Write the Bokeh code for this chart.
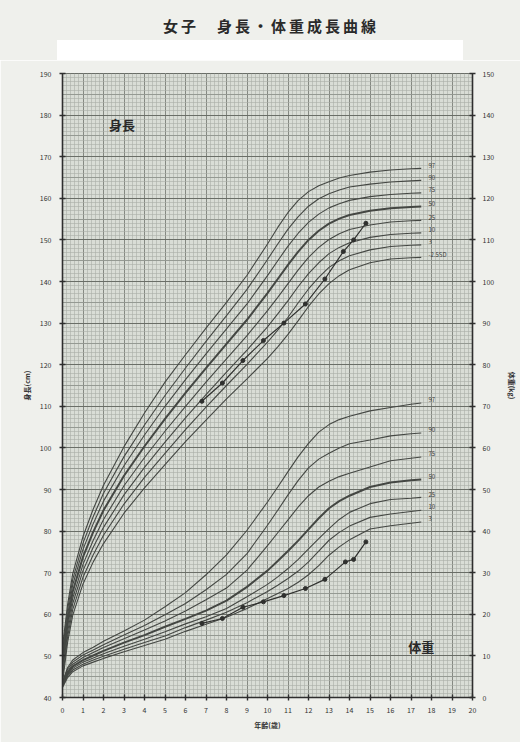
from bokeh.plotting import figure
from bokeh.models import Range1d, LinearAxis, SingleIntervalTicker, Grid, Label, Div
from bokeh.layouts import column
from bokeh.embed import file_html
from bokeh.resources import INLINE

FONT = "Noto Sans CJK JP"

AGES = [0, 0.25, 0.5, 1, 1.5, 2, 3, 4, 5, 6, 7, 8, 9, 10, 10.5, 11, 11.5, 12, 12.5, 13, 13.5, 14, 15, 16, 17, 17.5]

# Height percentile curves (cm)
H_P97 = [52.3, 62.4, 69.8, 78.7, 85.3, 91.0, 100.3, 108.4, 115.8, 122.4, 128.8, 135.0, 141.5, 149.0, 153.0, 156.6, 159.5, 161.6, 163.0, 164.0, 164.9, 165.5, 166.3, 166.8, 167.1, 167.2]
H_P90 = [51.1, 61.2, 68.4, 77.1, 83.5, 89.1, 97.9, 105.5, 112.6, 119.2, 125.6, 131.8, 138.1, 145.3, 149.0, 152.6, 155.6, 158.1, 159.9, 161.1, 162.0, 162.7, 163.4, 163.9, 164.2, 164.3]
H_P75 = [49.8, 59.9, 67.1, 75.6, 81.8, 87.2, 95.7, 103.1, 110.0, 116.4, 122.6, 128.6, 134.6, 141.4, 145.0, 148.5, 151.6, 154.2, 156.2, 157.7, 158.7, 159.5, 160.4, 160.9, 161.2, 161.3]
H_P50 = [48.5, 58.5, 65.5, 73.8, 79.8, 85.0, 93.3, 100.4, 107.0, 113.2, 119.2, 125.0, 130.8, 137.2, 140.6, 144.0, 147.2, 150.0, 152.2, 153.9, 155.1, 156.0, 157.0, 157.6, 157.9, 158.0]
H_P25 = [47.2, 57.1, 63.9, 72.0, 77.8, 82.8, 90.9, 97.7, 104.0, 110.0, 115.8, 121.4, 127.0, 133.0, 136.2, 139.5, 142.8, 145.8, 148.2, 150.1, 151.5, 152.5, 153.6, 154.3, 154.6, 154.7]
H_P10 = [45.9, 55.8, 62.6, 70.5, 76.1, 80.9, 88.7, 95.3, 101.4, 107.2, 112.8, 118.2, 123.5, 129.1, 132.2, 135.4, 138.8, 141.9, 144.5, 146.7, 148.2, 149.3, 150.6, 151.3, 151.6, 151.7]
H_P03 = [44.7, 54.6, 61.2, 68.9, 74.3, 79.0, 86.5, 92.9, 98.7, 104.4, 109.8, 115.0, 120.1, 125.4, 128.3, 131.4, 134.9, 138.2, 141.0, 143.4, 145.0, 146.2, 147.6, 148.4, 148.7, 148.8]
H_M25SD = [43.5, 53.3, 59.8, 67.3, 72.6, 77.0, 84.3, 90.4, 96.0, 101.5, 106.7, 111.8, 116.6, 121.5, 124.3, 127.3, 130.6, 134.0, 137.0, 139.5, 141.4, 142.8, 144.5, 145.4, 145.7, 145.8]
H_CURVES = [H_P97, H_P90, H_P75, H_P50, H_P25, H_P10, H_P03, H_M25SD]
H_LABELS = ["97", "90", "75", "50", "25", "10", "3", "-2.5SD"]

# Weight percentile curves (kg)
W_P97 = [3.8, 7.2, 9.0, 10.8, 12.1, 13.5, 16.0, 18.6, 21.8, 25.2, 29.5, 34.3, 40.2, 47.0, 50.6, 54.3, 57.9, 61.1, 63.8, 65.6, 66.8, 67.6, 68.9, 69.7, 70.5, 70.8]
W_P90 = [3.5, 6.8, 8.5, 10.2, 11.4, 12.7, 15.0, 17.3, 19.9, 22.6, 25.9, 29.6, 34.6, 41.4, 45.0, 48.7, 52.2, 55.2, 57.3, 58.7, 60.0, 61.0, 61.9, 62.9, 63.4, 63.6]
W_P75 = [3.3, 6.3, 8.0, 9.6, 10.8, 12.0, 14.1, 16.2, 18.4, 20.8, 23.5, 26.3, 30.6, 36.5, 39.6, 42.7, 45.8, 48.5, 50.6, 52.0, 53.1, 53.9, 55.4, 56.9, 57.5, 57.8]
W_P50 = [3.0, 5.9, 7.5, 9.0, 10.1, 11.2, 13.2, 15.0, 17.0, 18.9, 20.9, 23.3, 26.6, 30.5, 32.8, 35.2, 37.7, 40.4, 43.1, 45.5, 47.2, 48.5, 50.6, 51.7, 52.2, 52.4]
W_P25 = [2.8, 5.5, 7.0, 8.5, 9.5, 10.5, 12.3, 14.0, 15.8, 17.7, 19.4, 21.4, 24.2, 27.2, 29.0, 31.0, 33.2, 35.7, 38.2, 40.6, 42.8, 44.5, 46.6, 47.6, 47.9, 48.1]
W_P10 = [2.6, 5.2, 6.6, 8.0, 9.0, 9.9, 11.6, 13.2, 14.8, 16.8, 18.6, 20.5, 22.8, 25.5, 27.0, 28.6, 30.4, 32.6, 35.2, 37.8, 39.7, 41.2, 43.3, 44.1, 44.7, 45.0]
W_P03 = [2.4, 4.8, 6.2, 7.6, 8.5, 9.4, 11.0, 12.5, 14.0, 15.9, 17.6, 19.3, 21.4, 23.8, 25.0, 26.2, 27.7, 29.5, 31.7, 34.2, 36.2, 37.9, 40.5, 41.3, 41.9, 42.2]
W_CURVES = [W_P97, W_P90, W_P75, W_P50, W_P25, W_P10, W_P03]
W_LABELS = ["97", "90", "75", "50", "25", "10", "3"]

# Patient measurements
PT_AGE_H = [6.8, 7.8, 8.8, 9.8, 10.8, 11.85, 12.8, 13.7, 14.2, 14.8]
PT_H = [111.2, 115.6, 121.0, 125.8, 130.0, 134.6, 140.6, 147.2, 150.0, 154.0]
PT_AGE_W = [6.8, 7.8, 8.8, 9.8, 10.8, 11.85, 12.8, 13.8, 14.2, 14.8]
PT_W = [17.8, 19.0, 21.7, 23.0, 24.5, 26.2, 28.4, 32.6, 33.2, 37.4]

TITLE = "女子　身長・体重成長曲線"

PAGE_BG = "#eff0ec"

header_html = (
    '<div style="box-sizing:border-box;height:40px;padding-top:17px;line-height:18px;'
    'padding-left:163px;text-align:left;font-family:\'Noto Sans CJK JP\';font-size:15px;'
    'font-weight:bold;color:#2a2a2a;letter-spacing:3px;white-space:nowrap;">' + TITLE + '</div>'
    '<div style="margin-left:57px;width:406px;height:20px;background:#ffffff;"></div>'
)
header = Div(text=header_html, width=520, height=60, margin=0,
             styles={"background-color": PAGE_BG})

p = figure(width=520, height=682, output_backend="svg", toolbar_location=None, title=None,
           x_range=Range1d(0, 20), y_range=Range1d(40, 190),
           min_border_left=62, min_border_right=48, min_border_top=13, min_border_bottom=45,
           background_fill_color="#d9ddd6", border_fill_color=PAGE_BG,
           outline_line_color="#6a6e68", outline_line_width=1,
           y_axis_location=None, x_axis_location=None)
p.extra_y_ranges = {"w": Range1d(0, 150)}

# grids
gx_min = Grid(dimension=0, ticker=SingleIntervalTicker(interval=1, num_minor_ticks=5),
              grid_line_color="#858982", grid_line_width=1,
              minor_grid_line_color="#aaaea7", minor_grid_line_width=0.6)
gy_min = Grid(dimension=1, ticker=SingleIntervalTicker(interval=10, num_minor_ticks=10),
              grid_line_color="#6f736c", grid_line_width=1.2,
              minor_grid_line_color="#aaaea7", minor_grid_line_width=0.6)
gy_mid = Grid(dimension=1, ticker=SingleIntervalTicker(interval=5),
              grid_line_color="#91958e", grid_line_width=0.9)
gy_maj = Grid(dimension=1, ticker=SingleIntervalTicker(interval=10),
              grid_line_color="#6a6e67", grid_line_width=1.2)
for g in (gx_min, gy_min, gy_mid, gy_maj):
    p.add_layout(g)

def style_axis(ax):
    ax.axis_line_color = "#2e2e2e"
    ax.axis_line_width = 1.6
    ax.major_tick_line_color = "#2e2e2e"
    ax.major_tick_line_width = 1.4
    ax.major_tick_in = 3
    ax.major_tick_out = 3
    ax.minor_tick_line_color = None
    ax.major_label_text_font = FONT
    ax.major_label_text_font_size = "7px"
    ax.major_label_text_color = "#333333"
    ax.axis_label_text_font = FONT
    ax.axis_label_text_font_size = "7px"
    ax.axis_label_text_font_style = "bold"
    ax.axis_label_text_color = "#333333"

xax = LinearAxis(ticker=SingleIntervalTicker(interval=1), axis_label="年齢(歳)")
style_axis(xax)
xax.major_label_standoff = 5
xax.axis_label_standoff = 4
p.add_layout(xax, "below")

lax = LinearAxis(ticker=SingleIntervalTicker(interval=10), axis_label="身長(cm)")
style_axis(lax)
lax.major_label_standoff = 7
lax.axis_label_standoff = 5
p.add_layout(lax, "left")

rax = LinearAxis(y_range_name="w", ticker=SingleIntervalTicker(interval=10), axis_label="体重(kg)")
style_axis(rax)
rax.major_label_standoff = 6
rax.axis_label_standoff = 10
p.add_layout(rax, "right")

CURVE = "#444743"
for vals, lab in zip(H_CURVES, H_LABELS):
    w = 2.0 if lab == "50" else 1.1
    p.line(AGES, vals, line_color=CURVE, line_width=w)
    p.add_layout(Label(x=17.85, y=vals[-1] + 0.8, text=lab, text_font=FONT,
                       text_font_size="6px", text_color="#3a3a3a", text_baseline="middle"))
for vals, lab in zip(W_CURVES, W_LABELS):
    w = 2.0 if lab == "50" else 1.1
    p.line(AGES, vals, line_color=CURVE, line_width=w, y_range_name="w")
    p.add_layout(Label(x=17.85, y=vals[-1] + 0.8, y_range_name="w", text=lab, text_font=FONT,
                       text_font_size="6px", text_color="#3a3a3a", text_baseline="middle"))

PT = "#2f302e"
p.line(PT_AGE_H, PT_H, line_color=PT, line_width=1.2)
p.scatter(PT_AGE_H, PT_H, size=4, color=PT)
p.line(PT_AGE_W, PT_W, line_color=PT, line_width=1.2, y_range_name="w")
p.scatter(PT_AGE_W, PT_W, size=4, color=PT, y_range_name="w")

p.add_layout(Label(x=2.9, y=177.7, text="身長", text_font=FONT, text_font_size="13px",
                   text_font_style="bold", text_color="#2a2a2a", text_align="center", text_baseline="middle"))
p.add_layout(Label(x=17.5, y=12.3, y_range_name="w", text="体重", text_font=FONT, text_font_size="13px",
                   text_font_style="bold", text_color="#2a2a2a", text_align="center", text_baseline="middle"))

layout = column(header, p, spacing=0)
open("out.html", "w").write(file_html(layout, INLINE))
